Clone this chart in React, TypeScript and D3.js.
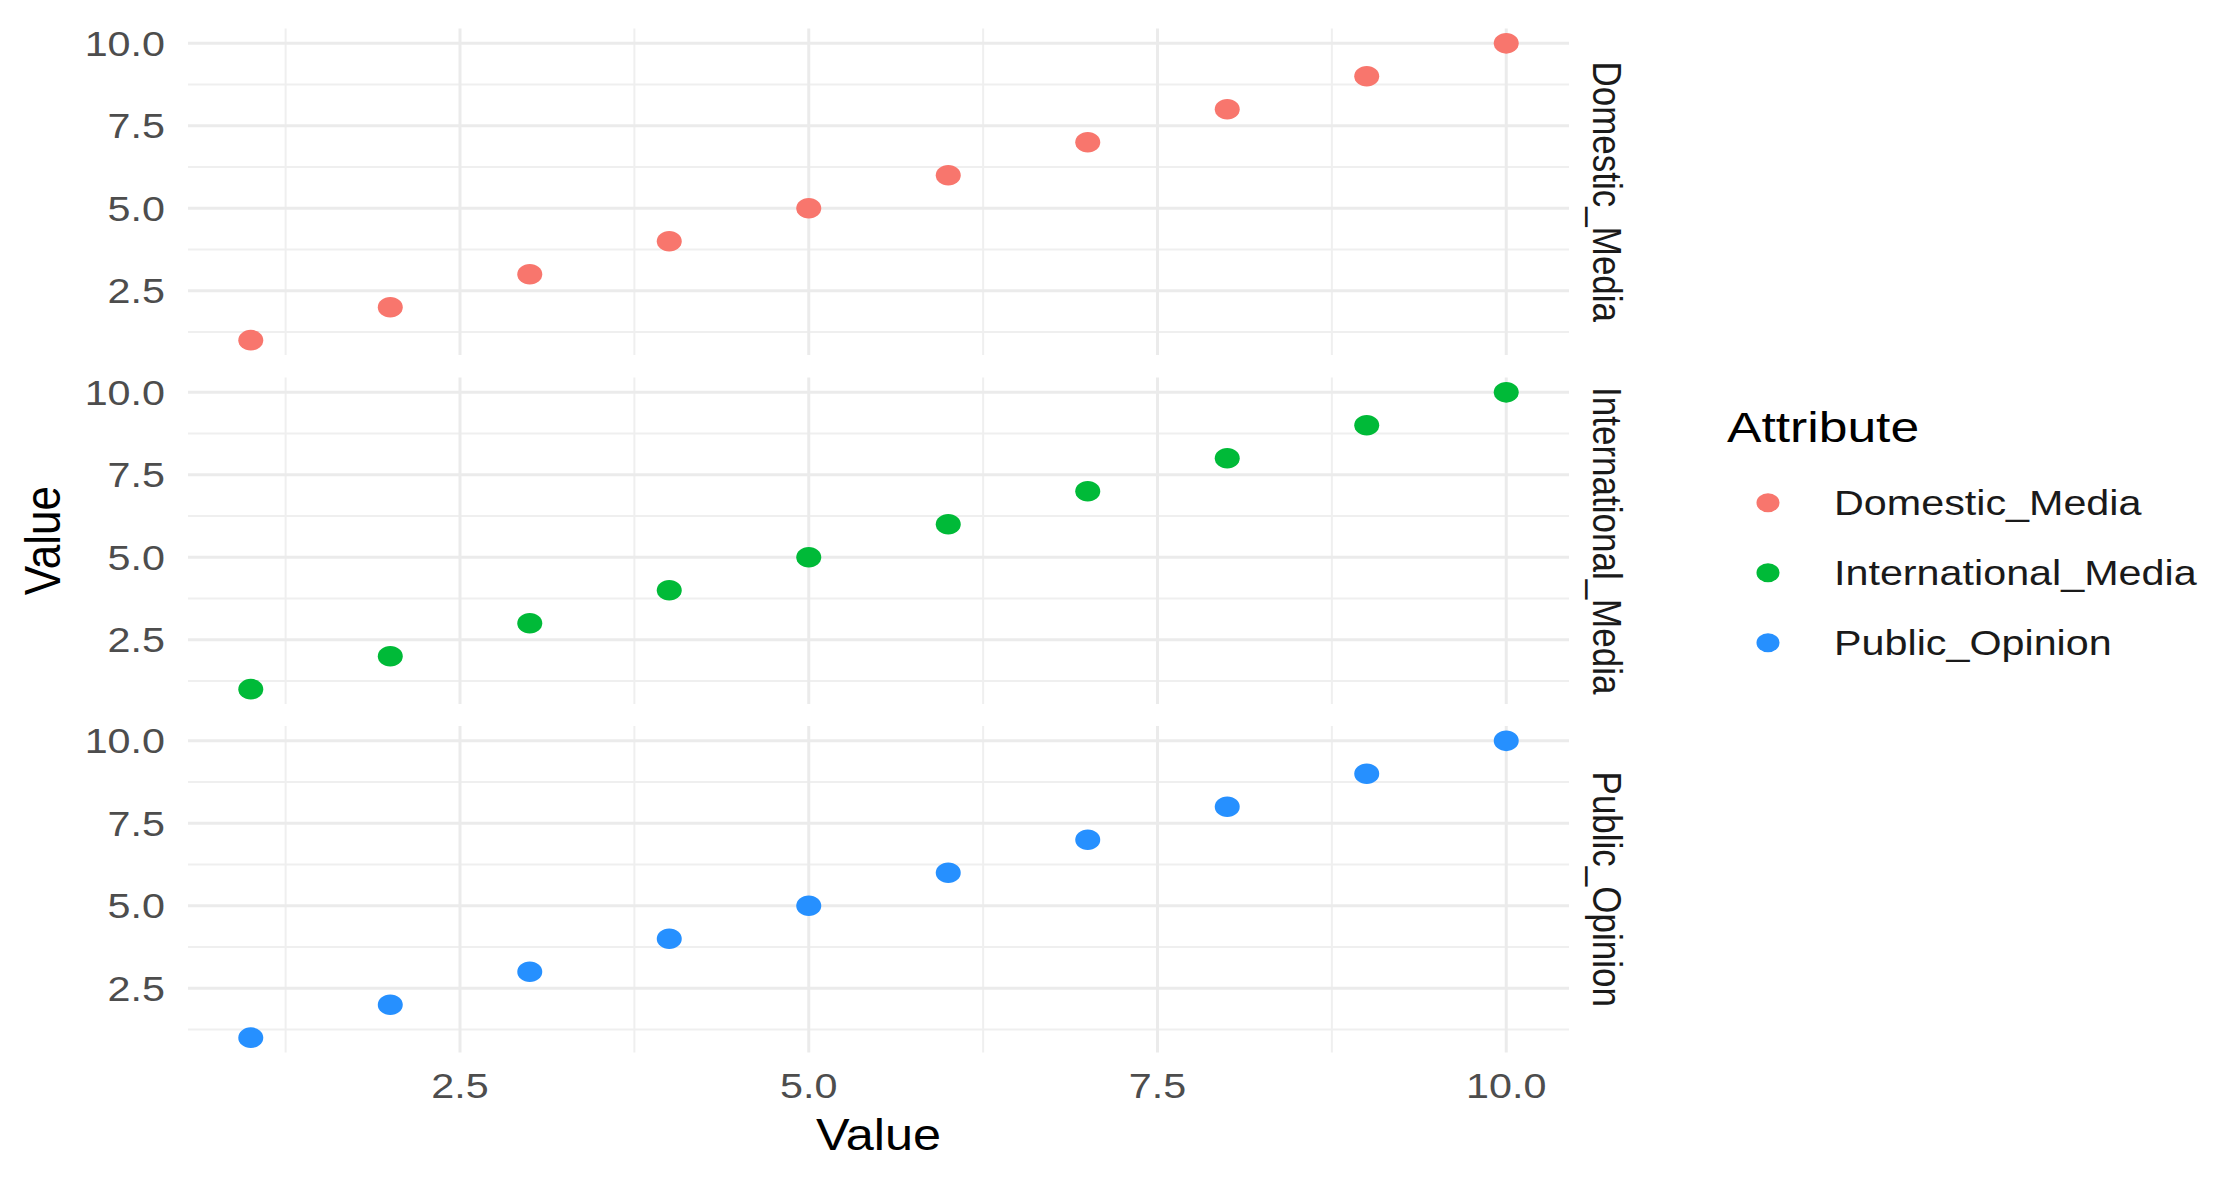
import React from "react";
import * as d3 from "d3";

const attributes = ["Domestic_Media", "International_Media", "Public_Opinion"];
const colors = ["#F8766D", "#00BA38", "#2690FF"];
const xValues = [1, 2, 3, 4, 5, 6, 7, 8, 9, 10];
const domesticValues = [1, 2, 3, 4, 5, 6, 7, 8, 9, 10];
const internationalValues = [1, 2, 3, 4, 5, 6, 7, 8, 9, 10];
const publicValues = [1, 2, 3, 4, 5, 6, 7, 8, 9, 10];
const seriesValues = [domesticValues, internationalValues, publicValues];
const majorTicks = [2.5, 5.0, 7.5, 10.0];
const minorTicks = [1.25, 3.75, 6.25, 8.75];
const xTitle = "Value";
const yTitle = "Value";
const legendTitle = "Attribute";

const W = 2218;
const H = 1181;
const panelLeft = 188;
const panelRight = 1569;
const panelTops = [28.5, 377.5, 726];
const panelH = 326.5;
const SX = 1.18;
const FONT = "'Liberation Sans', Arial, Helvetica, sans-serif";

export default function App() {
  const x = d3.scaleLinear().domain([0.55, 10.45]).range([panelLeft, panelRight]);
  const fmt = d3.format(".1f");

  return (
    <svg
      width={W}
      height={H}
      viewBox={`0 0 ${W} ${H}`}
      style={{ position: "absolute", left: 0, top: 0, display: "block", background: "#fff" }}
      fontFamily={FONT}
    >
      <rect x={0} y={0} width={W} height={H} fill="#ffffff" />
      {attributes.map((attr, i) => {
        const top = panelTops[i];
        const y = d3.scaleLinear().domain([0.55, 10.45]).range([top + panelH, top]);
        const vals = seriesValues[i];
        const cy = top + panelH / 2;
        return (
          <g key={attr}>
            {minorTicks.map((t) => (
              <line key={"hm" + t} x1={panelLeft} x2={panelRight} y1={y(t)} y2={y(t)} stroke="#EFEFEF" strokeWidth={2} />
            ))}
            {minorTicks.map((t) => (
              <line key={"vm" + t} x1={x(t)} x2={x(t)} y1={top} y2={top + panelH} stroke="#EFEFEF" strokeWidth={2} />
            ))}
            {majorTicks.map((t) => (
              <line key={"hM" + t} x1={panelLeft} x2={panelRight} y1={y(t)} y2={y(t)} stroke="#EBEBEB" strokeWidth={3} />
            ))}
            {majorTicks.map((t) => (
              <line key={"vM" + t} x1={x(t)} x2={x(t)} y1={top} y2={top + panelH} stroke="#EBEBEB" strokeWidth={3} />
            ))}
            {majorTicks.map((t) => (
              <text
                key={"yl" + t}
                transform={`translate(165,${y(t) + 12.5}) scale(${SX},1)`}
                textAnchor="end"
                fontSize={35}
                fill="#4D4D4D"
              >
                {fmt(t)}
              </text>
            ))}
            {xValues.map((xv, j) => (
              <ellipse key={"p" + j} cx={x(xv)} cy={y(vals[j])} rx={12.5} ry={10.3} fill={colors[i]} />
            ))}
            <text
              transform={`translate(1593,${cy}) scale(${SX},1) rotate(90)`}
              textAnchor="middle"
              fontSize={35}
              fill="#1A1A1A"
            >
              {attr}
            </text>
          </g>
        );
      })}
      {majorTicks.map((t) => (
        <text
          key={"xl" + t}
          transform={`translate(${x(t)},1098) scale(${SX},1)`}
          textAnchor="middle"
          fontSize={35}
          fill="#4D4D4D"
        >
          {fmt(t)}
        </text>
      ))}
      <text
        transform={`translate(${(panelLeft + panelRight) / 2},1150) scale(1.12,1)`}
        textAnchor="middle"
        fontSize={45}
        fill="#000"
      >
        {xTitle}
      </text>
      <text
        transform={`translate(60,${(panelTops[1] + panelTops[1] + panelH) / 2}) scale(1.12,1) rotate(-90)`}
        textAnchor="middle"
        fontSize={44}
        fill="#000"
      >
        {yTitle}
      </text>
      <text transform={`translate(1727,442) scale(1.2,1)`} fontSize={43} fill="#000">
        {legendTitle}
      </text>
      {attributes.map((attr, i) => {
        const ly = 502.7 + i * 70;
        return (
          <g key={"lg" + attr}>
            <ellipse cx={1768} cy={ly} rx={11.5} ry={9.5} fill={colors[i]} />
            <text transform={`translate(1834,${ly + 12.5}) scale(${SX},1)`} fontSize={35} fill="#1A1A1A">
              {attr}
            </text>
          </g>
        );
      })}
    </svg>
  );
}
